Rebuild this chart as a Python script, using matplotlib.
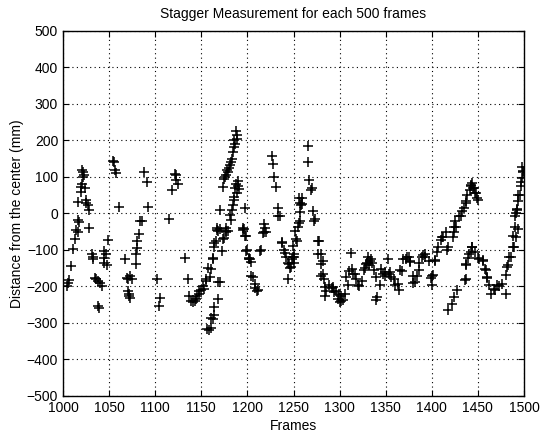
import matplotlib
matplotlib.use("Agg")
import matplotlib.pyplot as plt

plt.rcParams["font.family"] = ["Liberation Sans", "DejaVu Sans"]

# frames / distance, grouped by frame range
frames_a = [1004, 1005, 1007, 1009, 1011, 1013, 1014, 1016, 1016, 1017, 1016, 1019, 1020, 1021,
            1022, 1022, 1021, 1023, 1024, 1025, 1025, 1027, 1028, 1028]
dist_a = [-200, -190, -181, -144, -98, -71, -45, -52, -18, -22, 32, 59, 73, 82,
          100, 114, 119, 105, 70, 37, 30, 23, 9, -39]

frames_b = [1031, 1032, 1033, 1035, 1036, 1038, 1040, 1042, 1038, 1039, 1044, 1045, 1045, 1049,
            1047, 1048, 1054, 1055, 1057, 1056, 1061]
dist_b = [-112, -126, -118, -176, -180, -185, -190, -199, -254, -258, -121, -103, -137, -72,
          -111, -141, 145, 140, 112, 118, 18]

frames_c = [1067, 1069, 1071, 1073, 1075, 1071, 1072, 1072, 1073, 1079, 1079, 1080, 1082, 1080,
            1083, 1086, 1088, 1091, 1092]
dist_c = [-126, -176, -180, -172, -179, -213, -220, -227, -231, -112, -139, -75, -57, -95,
          -21, -20, 114, 86, 18]

frames_d = [1102, 1105, 1104, 1115, 1118, 1121, 1123, 1123, 1125, 1132, 1136, 1137, 1139]
dist_d = [-179, -231, -254, -14, 64, 109, 91, 105, 82, -121, -180, -225, -239]

frames_e = [1141, 1143, 1144, 1145, 1147, 1148, 1150, 1152, 1153, 1155, 1155, 1157, 1159, 1160,
            1163, 1163, 1164, 1164, 1166, 1167, 1168, 1170, 1172, 1173, 1175, 1177, 1177, 1179,
            1182, 1156, 1158, 1160, 1161, 1163, 1164, 1164, 1168, 1168, 1170]
dist_e = [-243, -240, -234, -225, -220, -212, -210, -198, -206, -184, -180, -148, -175, -152,
          -121, -125, -93, -80, -75, -44, -47, -43, -103, -70, -66, -48, -52, -47,
          -17, -316, -320, -285, -315, -288, -279, -257, -234, -189, -188]

frames_f = [1170, 1174, 1175, 1176, 1177, 1178, 1179, 1180, 1181, 1182, 1183, 1184, 1186, 1186,
            1187, 1188, 1189, 1189, 1181, 1183, 1184, 1185, 1186, 1187, 1189, 1190, 1190, 1191,
            1188, 1197, 1167, 1177, 1195]
dist_f = [9, 73, 95, 100, 105, 120, 114, 125, 132, 140, 150, 168, 182, 200,
          190, 227, 214, 205, -5, 9, 23, 45, 36, 70, 55, 75, 90, 68,
          82, 14, -41, -41, -39]

frames_g = [1195, 1197, 1196, 1198, 1199, 1200, 1202, 1202, 1203, 1204, 1204, 1206, 1208, 1208,
            1210, 1212, 1214, 1215, 1217, 1218, 1218, 1219, 1220, 1227, 1228, 1229, 1231, 1233,
            1233, 1235, 1237, 1238, 1240, 1241, 1242, 1244, 1244, 1245, 1246, 1247, 1248, 1249,
            1249, 1250, 1250, 1251]
dist_g = [-44, -62, -43, -61, -103, -101, -125, -123, -125, -134, -171, -175, -193, -203,
          -212, -211, -103, -101, -53, -29, -52, -39, -52, 158, 135, 100, 73, -7,
          14, -6, -80, -79, -101, -107, -120, -135, -180, -138, -148, -147, -125, -88,
          -120, -112, -135, -119]

frames_h = [1252, 1254, 1253, 1255, 1256, 1257, 1257, 1257, 1259, 1259, 1256, 1258, 1266, 1266,
            1267, 1269, 1270, 1271, 1272, 1273, 1277, 1278, 1277, 1280, 1280, 1282, 1280, 1282,
            1283]
dist_h = [-48, -75, -70, -38, -25, -20, 5, 28, 42, 25, 42, 24, 186, 140,
          93, 65, 70, 7, -21, -15, -75, -75, -111, -112, -138, -130, -170, -166,
          -180]

frames_i = [1284, 1284, 1285, 1289, 1292, 1293, 1294, 1296, 1298, 1299, 1300, 1301, 1302, 1304,
            1306, 1307, 1309, 1310, 1312, 1313, 1314, 1317, 1318, 1320, 1321, 1324, 1326, 1328,
            1329, 1330, 1331, 1332, 1333, 1334, 1335, 1337, 1340, 1341, 1340, 1344]
dist_i = [-202, -225, -212, -197, -203, -202, -215, -212, -234, -220, -243, -225, -240, -238,
          -220, -175, -197, -157, -107, -152, -166, -165, -180, -197, -198, -184, -156, -148,
          -138, -135, -120, -140, -129, -125, -135, -156, -175, -230, -238, -197]

frames_j = [1345, 1347, 1349, 1349, 1352, 1354, 1355, 1356, 1359, 1360, 1363, 1364, 1365, 1368,
            1369, 1372, 1373, 1375, 1376, 1376, 1380, 1380, 1382, 1384, 1386, 1386, 1389, 1390,
            1393, 1393, 1397, 1399, 1400, 1400, 1401]
dist_j = [-153, -165, -159, -171, -125, -166, -159, -175, -180, -197, -194, -211, -156, -157,
          -125, -125, -120, -119, -130, -134, -170, -190, -188, -172, -156, -137, -120, -114,
          -111, -119, -129, -177, -170, -197, -168]

frames_k = [1404, 1404, 1406, 1407, 1410, 1411, 1412, 1415, 1417, 1418, 1423, 1424, 1424, 1425,
            1426, 1429, 1432, 1433, 1435, 1437, 1437, 1438, 1441, 1442, 1443, 1444, 1445, 1446,
            1447, 1448, 1449, 1450]
dist_k = [-129, -128, -105, -93, -74, -65, -65, -52, -101, -93, -65, -52, -38, -20,
          -38, -6, -7, 6, 14, 29, 33, 51, 64, 74, 78, 84, 69, 70,
          56, 55, 42, 38]

frames_l = [1418, 1422, 1424, 1427, 1437, 1436, 1437, 1437, 1439, 1440, 1443, 1444, 1444, 1447,
            1450, 1451, 1455, 1456, 1458, 1459, 1460, 1460, 1462, 1464, 1467, 1469, 1471, 1473,
            1476, 1480]
dist_l = [-265, -247, -229, -211, -179, -181, -141, -138, -123, -111, -105, -92, -93, -106,
          -123, -125, -128, -129, -152, -154, -175, -177, -195, -220, -206, -210, -197, -200,
          -193, -220]

frames_m = [1481, 1482, 1483, 1484, 1486, 1488, 1488, 1489, 1490, 1490, 1491, 1491, 1492, 1492,
            1493, 1493, 1494, 1496, 1497, 1497, 1498, 1498, 1499, 1499]
dist_m = [-168, -147, -141, -119, -120, -92, -61, -93, -38, -7, -65, 0, 11, 9,
          51, -43, 33, 51, 74, 87, 98, 126, 113, 116]

frames = (frames_a + frames_b + frames_c + frames_d + frames_e + frames_f + frames_g
          + frames_h + frames_i + frames_j + frames_k + frames_l + frames_m)
dist = (dist_a + dist_b + dist_c + dist_d + dist_e + dist_f + dist_g
        + dist_h + dist_i + dist_j + dist_k + dist_l + dist_m)

x_ticks = list(range(1000, 1501, 50))
y_ticks = list(range(-500, 501, 100))

fig = plt.figure(figsize=(5.46, 4.34), dpi=100)
ax = fig.add_axes([0.1154, 0.0876, 0.8443, 0.8410])

ax.plot(frames, dist, linestyle="none", marker="+", color="black",
        markersize=7, markeredgewidth=1.1)

ax.set_xlim(1000, 1500)
ax.set_ylim(-500, 500)
ax.set_xticks(x_ticks)
ax.set_yticks(y_ticks)
ax.tick_params(direction="in", top=True, right=True, labelsize=10, length=4)
ax.grid(True, color="black", linestyle=(0, (1, 3)), linewidth=0.8)
for s in ax.spines.values():
    s.set_linewidth(1.0)

ax.set_title("Stagger Measurement for each 500 frames", fontsize=10, pad=9)
ax.set_xlabel("Frames", fontsize=10, labelpad=3)
ax.set_ylabel("Distance from the center (mm)", fontsize=10, labelpad=2)

fig.savefig("out.png", dpi=100)
